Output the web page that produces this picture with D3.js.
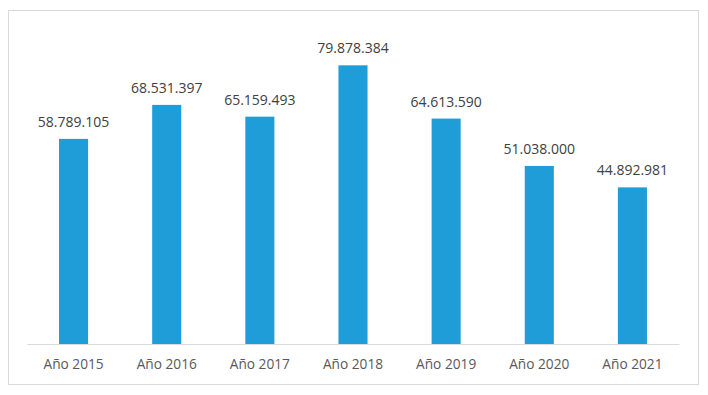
<!DOCTYPE html>
<html><head><meta charset="utf-8">
<script src="https://cdn.jsdelivr.net/npm/d3@7"></script>
<style>body{margin:0;background:#fff}svg{display:block}</style>
</head><body>
<svg id="c" width="708" height="395"></svg>
<script>
const categories = ["Año 2015","Año 2016","Año 2017","Año 2018","Año 2019","Año 2020","Año 2021"];
const values = [58789105, 68531397, 65159493, 79878384, 64613590, 51038000, 44892981];
const labels = ["58.789.105","68.531.397","65.159.493","79.878.384","64.613.590","51.038.000","44.892.981"];

const svg = d3.select("#c");
svg.append("rect").attr("x",8.5).attr("y",10.5).attr("width",690).attr("height",374)
  .attr("fill","#fff").attr("stroke","#D9D9D9").attr("stroke-width",1);

const x = d3.scaleBand().domain(categories).range([27,679]).paddingInner(0.688).paddingOuter(0.344);
const y = d3.scaleLinear().domain([0,90000000]).range([344,30]);

svg.selectAll("rect.bar").data(values).join("rect").attr("class","bar")
  .attr("x",(d,i)=>x(categories[i])).attr("width",x.bandwidth())
  .attr("y",d=>y(d)).attr("height",d=>y(0)-y(d)).attr("fill","#1F9DD9");

svg.selectAll("text.val").data(values).join("text").attr("class","val")
  .attr("x",(d,i)=>x(categories[i])+x.bandwidth()/2).attr("y",d=>y(d)-12)
  .attr("text-anchor","middle").attr("font-family","Open Sans").attr("font-size",14)
  .attr("fill","#404040").text((d,i)=>labels[i]);

const ax = svg.append("g").attr("transform","translate(0,344)")
  .call(d3.axisBottom(x).tickSize(0).tickPadding(15).tickSizeOuter(0));
ax.select(".domain").attr("stroke","#D9D9D9").attr("d","M27.5,0.5H679.5");
ax.selectAll("text").attr("font-family","Open Sans").attr("font-size",13.7).attr("fill","#595959");
</script>
</body></html>
